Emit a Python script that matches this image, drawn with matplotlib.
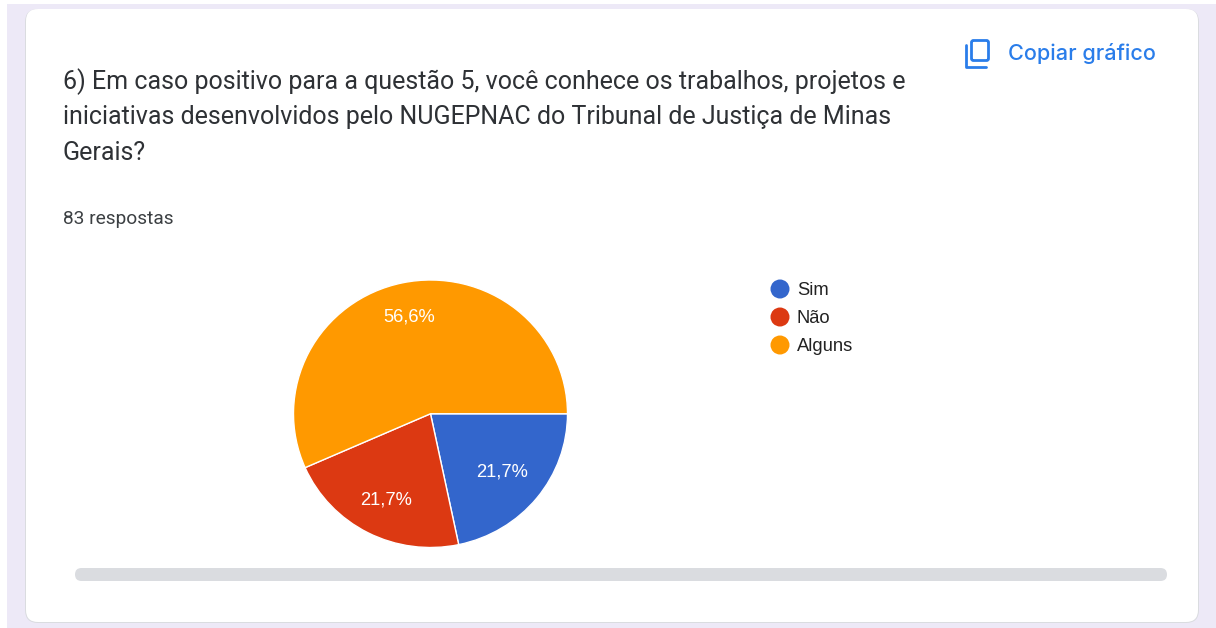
import matplotlib
matplotlib.use("Agg")
import matplotlib.pyplot as plt
import numpy as np
from matplotlib.patches import Circle, FancyBboxPatch

categories = ["Sim", "Não", "Alguns"]
shares = [21.7, 21.7, 56.6]
colors = ["#3366CC", "#DC3912", "#FF9900"]
question_lines = [
    "6) Em caso positivo para a questão 5, você conhece os trabalhos, projetos e",
    "iniciativas desenvolvidos pelo NUGEPNAC do Tribunal de Justiça de Minas",
    "Gerais?",
]
responses = "83 respostas"
copy_label = "Copiar gráfico"

W, H = 1216, 628


def yy(y):
    # picture coords run downwards, the axes upwards
    return H - y


def rounded(ax, x0, y0, x1, y1, r, **kw):
    patch = FancyBboxPatch(
        (x0 + r, yy(y1) + r),
        x1 - x0 - 2 * r,
        y1 - y0 - 2 * r,
        boxstyle=f"round,pad={r},rounding_size={r}",
        **kw,
    )
    ax.add_patch(patch)


fig = plt.figure(figsize=(W / 100, H / 100), dpi=100, facecolor="white")
ax = fig.add_axes([0, 0, 1, 1])
ax.set_xlim(0, W)
ax.set_ylim(0, H)
ax.set_aspect("equal")
ax.axis("off")

# page background and card
ax.fill_between([7, W], yy(4), 0, color="#EDE9F7", lw=0, zorder=0)
rounded(ax, 25, 9, 1199, 623, 13, fc="#DADCE0", ec="none", zorder=1)
rounded(ax, 26, 9, 1198, 622, 12, fc="white", ec="none", zorder=1)

# question text
for line, y in zip(question_lines, [81.5, 117, 152.5]):
    ax.text(63, yy(y), line, family="Roboto", fontsize=18.0, color="#2E3135",
            va="center", ha="left", zorder=3)
ax.text(63, yy(218.5), responses, family="Roboto", fontsize=13.75, color="#3C4043",
        va="center", ha="left", zorder=3)

# copy icon
rounded(ax, 971.5, 40.5, 988.5, 60.5, 2, fc="none", ec="#2A7DEA", lw=2.0, zorder=3)
ax.plot([965.7, 965.7, 985.5], [yy(45), yy(66.7), yy(66.7)], color="#2A7DEA",
        lw=2.0, solid_capstyle="round", solid_joinstyle="round", zorder=3)
ax.text(1008, yy(54), copy_label, family="Inter", fontsize=15.6, weight="medium",
        color="#2A7DEA", va="center", ha="left", zorder=3)

# legend
for name, color, y in zip(categories, colors, [289, 317, 345]):
    ax.add_patch(Circle((780, yy(y)), 9.5, fc=color, ec="none", zorder=3))
    ax.text(797, yy(y + 1.6), name, family="Liberation Sans", fontsize=13.2,
            color="#222222", va="center", ha="left", zorder=3)

# scrollbar
rounded(ax, 75, 568, 1167, 581, 6.5, fc="#DADCE0", ec="none", zorder=2)

# pie, slightly squashed like the screenshot, so it gets its own axes
pie_left, pie_right, pie_top, pie_bottom = 293.5, 567.5, 280, 547.5
pie_ax = fig.add_axes([
    pie_left / W,
    yy(pie_bottom) / H,
    (pie_right - pie_left) / W,
    (pie_bottom - pie_top) / H,
])
wedges, _ = pie_ax.pie(
    shares,
    colors=colors,
    startangle=0,
    counterclock=False,
    radius=1,
    wedgeprops={"edgecolor": "white", "linewidth": 1.0},
)
pie_ax.set_aspect("auto")
pie_ax.set_xlim(-1, 1)
pie_ax.set_ylim(-1, 1)

label_radius = [0.674, 0.717, 0.75]
for wedge, share, r in zip(wedges, shares, label_radius):
    mid = np.deg2rad((wedge.theta1 + wedge.theta2) / 2)
    pie_ax.text(r * np.cos(mid), r * np.sin(mid) - 0.008,
                f"{share:.1f}%".replace(".", ","), family="Liberation Sans",
                fontsize=13.2, color="white", ha="center", va="center")

fig.savefig("out.png", dpi=100, facecolor=fig.get_facecolor())
